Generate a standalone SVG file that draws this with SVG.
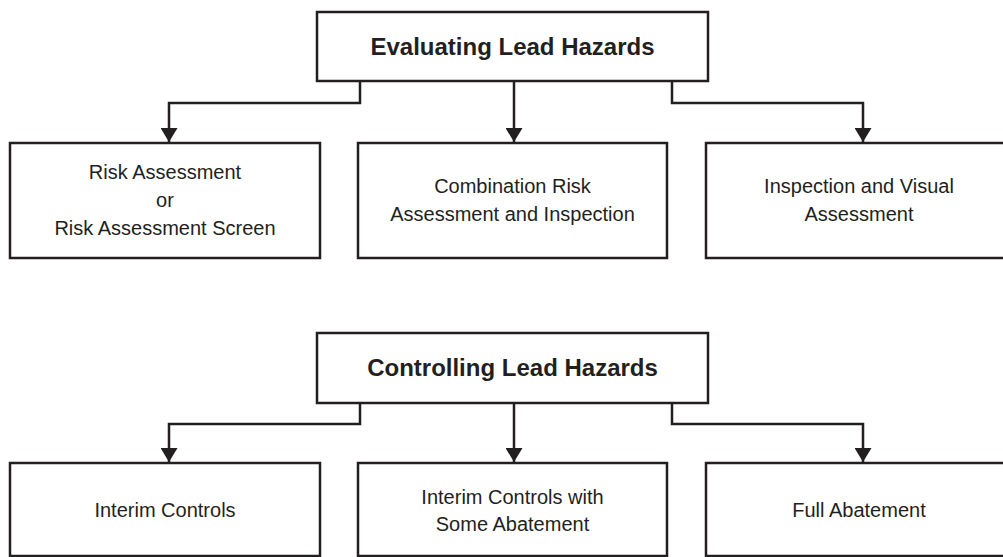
<svg xmlns="http://www.w3.org/2000/svg" width="1003" height="557" viewBox="0 0 1003 557">
  <defs>
    <style>
      .box { fill: #ffffff; stroke: #231f20; stroke-width: 2.5; }
      .conn { fill: none; stroke: #231f20; stroke-width: 2.5; }
      .title { font-family: "Liberation Sans", Arial, sans-serif; font-weight: bold; font-size: 24px; fill: #231f20; text-anchor: middle; }
      .label { font-family: "Liberation Sans", Arial, sans-serif; font-size: 20px; fill: #231f20; text-anchor: middle; }
    </style>
    <marker id="arrow" markerUnits="userSpaceOnUse" viewBox="0 0 14 17" refX="14" refY="8.5" markerWidth="14" markerHeight="17" orient="auto">
      <path d="M0,0 L14,8.5 L0,17 z" fill="#231f20"/>
    </marker>
  </defs>
  <rect width="1003" height="557" fill="#ffffff"/>

  <g id="connectors">
    <path class="conn" d="M360,81 V103 H169 V142" marker-end="url(#arrow)"/>
    <path class="conn" d="M514,81 V142" marker-end="url(#arrow)"/>
    <path class="conn" d="M672,81 V103 H863 V142" marker-end="url(#arrow)"/>
    <path class="conn" d="M360,403 V424 H169 V462" marker-end="url(#arrow)"/>
    <path class="conn" d="M514,403 V462" marker-end="url(#arrow)"/>
    <path class="conn" d="M672,403 V424 H863 V462" marker-end="url(#arrow)"/>
  </g>

  <g id="evaluating">
    <rect class="box" x="317" y="12" width="391" height="69"/>
    <text class="title" x="512.5" y="55">Evaluating Lead Hazards</text>
  </g>
  <g id="risk-assessment">
    <rect class="box" x="10" y="143" width="310" height="115"/>
    <text class="label" x="165" y="179">Risk Assessment</text>
    <text class="label" x="165" y="207">or</text>
    <text class="label" x="165" y="235">Risk Assessment Screen</text>
  </g>
  <g id="combination">
    <rect class="box" x="358" y="143" width="309" height="115"/>
    <text class="label" x="512.5" y="193">Combination Risk</text>
    <text class="label" x="512.5" y="221">Assessment and Inspection</text>
  </g>
  <g id="inspection">
    <rect class="box" x="706" y="143" width="306" height="115"/>
    <text class="label" x="859" y="193">Inspection and Visual</text>
    <text class="label" x="859" y="221">Assessment</text>
  </g>

  <g id="controlling">
    <rect class="box" x="317" y="333" width="391" height="70"/>
    <text class="title" x="512.5" y="376">Controlling Lead Hazards</text>
  </g>
  <g id="interim">
    <rect class="box" x="10" y="463" width="310" height="93"/>
    <text class="label" x="165" y="517">Interim Controls</text>
  </g>
  <g id="interim-abatement">
    <rect class="box" x="358" y="463" width="309" height="93"/>
    <text class="label" x="512.5" y="504">Interim Controls with</text>
    <text class="label" x="512.5" y="531">Some Abatement</text>
  </g>
  <g id="full-abatement">
    <rect class="box" x="706" y="463" width="306" height="93"/>
    <text class="label" x="859" y="517">Full Abatement</text>
  </g>
</svg>
